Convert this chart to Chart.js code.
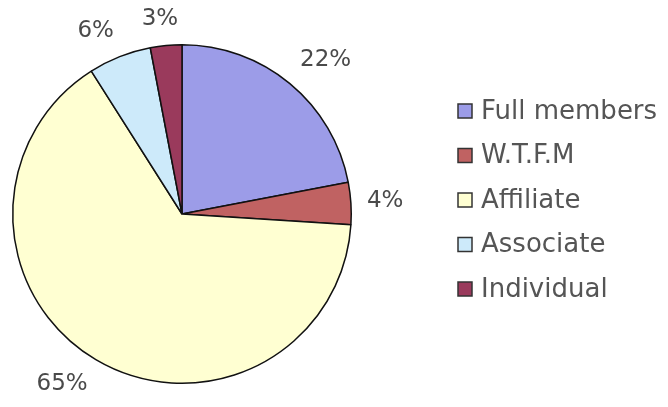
<!DOCTYPE html>
<html>
<head>
<meta charset="utf-8">
<script src="https://cdn.jsdelivr.net/npm/chart.js@4"></script>
<style>
  html, body { margin: 0; padding: 0; background: #fff; }
  #wrap { width: 668px; height: 407px; }
</style>
</head>
<body>
<div id="wrap"><canvas id="c" width="668" height="407"></canvas></div>
<script>
const categories = ["Full members", "W.T.F.M", "Affiliate", "Associate", "Individual"];
const shares = [22, 4, 65, 6, 3];
const sliceColors = ["#9c9ce8", "#c06262", "#ffffd2", "#cdeafa", "#9a3a5c"];

// percent labels: box corner anchored just outside the rim
const outerLabels = {
  id: "outerLabels",
  afterDatasetsDraw(chart) {
    const ctx = chart.ctx;
    const meta = chart.getDatasetMeta(0);
    ctx.save();
    ctx.font = "23px 'DejaVu Sans'";
    ctx.fillStyle = "#4a4a4a";
    ctx.textAlign = "center";
    ctx.textBaseline = "middle";
    meta.data.forEach((arc, i) => {
      const txt = shares[i] + "%";
      const w = ctx.measureText(txt).width, h = 22;
      const mid = (arc.startAngle + arc.endAngle) / 2;
      const c = Math.cos(mid), s = Math.sin(mid);
      const ax = arc.x + c * (arc.outerRadius + 16);
      const ay = arc.y + s * (arc.outerRadius + 16);
      const kx = Math.max(-1, Math.min(1, c * 2.7));
      const ky = Math.max(-1, Math.min(1, s * 1.5));
      ctx.fillText(txt, ax + kx * w / 2, ay + ky * h / 2);
    });
    ctx.restore();
  }
};

// legend on the right
const sideLegend = {
  id: "sideLegend",
  afterDraw(chart) {
    const ctx = chart.ctx;
    ctx.save();
    ctx.font = "26px 'DejaVu Sans'";
    ctx.textBaseline = "middle";
    categories.forEach((name, i) => {
      const y = 111 + i * 44.5;
      ctx.fillStyle = sliceColors[i];
      ctx.fillRect(458, y - 7, 14, 14);
      ctx.strokeStyle = "#333";
      ctx.lineWidth = 1.5;
      ctx.strokeRect(458, y - 7, 14, 14);
      ctx.fillStyle = "#555";
      ctx.fillText(name, 481, y + 1);
    });
    ctx.restore();
  }
};

new Chart(document.getElementById("c"), {
  type: "pie",
  data: {
    labels: categories,
    datasets: [{
      data: shares,
      backgroundColor: sliceColors,
      borderColor: "#111",
      borderWidth: 1.5
    }]
  },
  options: {
    responsive: false,
    animation: false,
    layout: { padding: { left: 12, top: 43, bottom: 22, right: 316 } },
    plugins: {
      legend: { display: false },
      tooltip: { enabled: false }
    }
  },
  plugins: [outerLabels, sideLegend]
});
</script>
</body>
</html>
